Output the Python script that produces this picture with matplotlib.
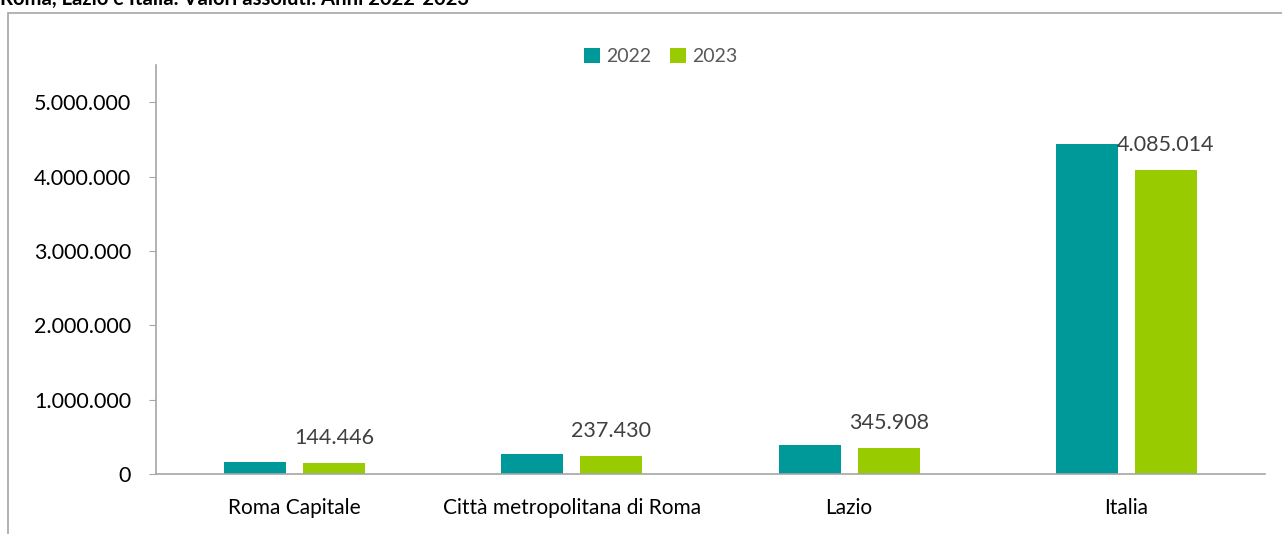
import numpy as np
import matplotlib
matplotlib.use("Agg")
import matplotlib.pyplot as plt
from matplotlib.patches import Rectangle
from matplotlib.ticker import FuncFormatter

# Data
categories = ["Roma Capitale", "Città metropolitana di Roma", "Lazio", "Italia"]
values_2022 = [165000, 270000, 385000, 4435000]
values_2023 = [144446, 237430, 345908, 4085014]
years = ["2022", "2023"]

teal = "#009999"
green = "#99CC00"
grey = "#A6A6A6"

plt.rcParams['font.family'] = ['Lato', 'DejaVu Sans']

fig = plt.figure(figsize=(12.82, 5.34), dpi=100)
W, H = 1282, 534

# outer frame of the chart area (runs off the right/bottom edges)
fig.patches.append(Rectangle((8 / W, -0.05), 1.1, 1 - 13 / H + 0.05,
                             transform=fig.transFigure, fill=False,
                             edgecolor=grey, linewidth=1.2))

# clipped title at the very top
fig.text(0.0, 1.0 - 5 / H, "Roma, Lazio e Italia. Valori assoluti. Anni 2022-2023",
         fontsize=14.6, fontweight='bold', ha='left', va='baseline', color='black')

ax = fig.add_axes([156 / W, 1 - 474 / H, (1265 - 156) / W, (474 - 65) / H])

x = np.arange(len(categories))
width = 0.224
off = 0.1425
ax.bar(x - off, values_2022, width, color=teal, label=years[0])
bars23 = ax.bar(x + off, values_2023, width, color=green, label=years[1])

for b, v in zip(bars23, values_2023):
    lbl = f"{v:,}".replace(",", ".")
    ax.annotate(lbl, (b.get_x() + b.get_width() / 2, v), xytext=(0, 25),
                textcoords='offset pixels', ha='center', va='center',
                fontsize=15.5, color='#404040')

ax.set_xlim(-0.5, len(categories) - 0.5)
ax.set_ylim(0, 5500000)
ax.set_yticks(np.arange(0, 5000001, 1000000))
ax.yaxis.set_major_formatter(FuncFormatter(lambda v, p: f"{int(v):,}".replace(",", ".")))
ax.set_xticks(x)
ax.set_xticklabels(categories)

for s in ['top', 'right']:
    ax.spines[s].set_visible(False)
for s in ['left', 'bottom']:
    ax.spines[s].set_color(grey)
    ax.spines[s].set_linewidth(1.2)

ax.tick_params(axis='y', length=5, color=grey, labelsize=15.5, pad=13, labelcolor='black')
ax.tick_params(axis='x', length=0, labelsize=15, pad=17, labelcolor='black')

ax.legend(loc='center', bbox_to_anchor=(0.455, 1.02), ncol=2, frameon=False,
          fontsize=14, handlelength=0.8, handleheight=0.8, handletextpad=0.3,
          columnspacing=1.0, labelcolor='#595959')

plt.savefig("out.png", dpi=100)
